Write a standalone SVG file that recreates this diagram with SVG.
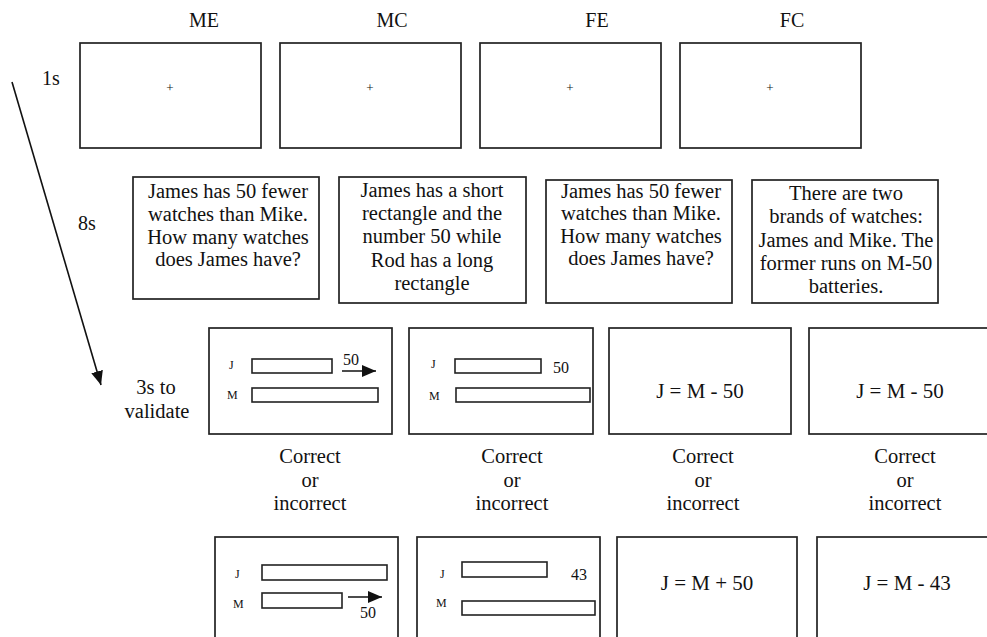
<svg xmlns="http://www.w3.org/2000/svg" width="987" height="637" viewBox="0 0 987 637">
<style>
text{font-family:"Liberation Serif","Times New Roman",serif;fill:#111}
.h{font-size:20px;text-anchor:middle}
.t{font-size:20.5px;text-anchor:middle}
.eq{font-size:21px;text-anchor:middle}
.s{font-size:12px}
.n{font-size:16px}
.p{font-size:13px;text-anchor:middle}
.box{fill:#fff;stroke:#222;stroke-width:1.7}
.bar{fill:#fff;stroke:#222;stroke-width:1.6}
.ln{stroke:#111;stroke-width:1.6;fill:none}
</style>
<defs>
<marker id="ah2" viewBox="0 0 10 10" refX="10" refY="5" markerWidth="14" markerHeight="12" markerUnits="userSpaceOnUse" orient="auto" preserveAspectRatio="none">
<path d="M0,0 L10,5 L0,10 z" fill="#111"/>
</marker>
</defs>
<rect width="987" height="637" fill="#fff"/>

<g id="headers">
<text class="h" x="204" y="27">ME</text>
<text class="h" x="392" y="27">MC</text>
<text class="h" x="597" y="27">FE</text>
<text class="h" x="792" y="27">FC</text>
</g>

<g id="timeline">
<text x="42" y="85" style="font-size:20px">1s</text>
<text x="78" y="230" style="font-size:20px">8s</text>
<text class="t" x="156" y="394">3s to</text>
<text class="t" x="157" y="418">validate</text>
</g>

<g id="connectors">
<line class="ln" x1="12" y1="82" x2="101" y2="385" marker-end="url(#ah2)"/>
</g>

<g id="fix-ME"><rect class="box" x="80" y="43" width="181" height="105"/><text class="p" x="170" y="92">+</text></g>
<g id="fix-MC"><rect class="box" x="280" y="43" width="181" height="105"/><text class="p" x="370" y="92">+</text></g>
<g id="fix-FE"><rect class="box" x="480" y="43" width="181" height="105"/><text class="p" x="570" y="92">+</text></g>
<g id="fix-FC"><rect class="box" x="680" y="43" width="181" height="105"/><text class="p" x="770" y="92">+</text></g>

<g id="prob-ME"><rect class="box" x="133" y="177" width="186" height="122"/>
<text class="t" x="228" y="198">James has 50 fewer</text>
<text class="t" x="228" y="221">watches than Mike.</text>
<text class="t" x="228" y="244">How many watches</text>
<text class="t" x="228" y="266">does James have?</text>
</g>
<g id="prob-MC"><rect class="box" x="339" y="177" width="187" height="126"/>
<text class="t" x="432" y="197">James has a short</text>
<text class="t" x="432" y="220">rectangle and the</text>
<text class="t" x="432" y="243">number 50 while</text>
<text class="t" x="432" y="267">Rod has a long</text>
<text class="t" x="432" y="290">rectangle</text>
</g>
<g id="prob-FE"><rect class="box" x="546" y="180" width="186" height="123"/>
<text class="t" x="641" y="198">James has 50 fewer</text>
<text class="t" x="641" y="220">watches than Mike.</text>
<text class="t" x="641" y="243">How many watches</text>
<text class="t" x="641" y="265">does James have?</text>
</g>
<g id="prob-FC"><rect class="box" x="752" y="180" width="186" height="123"/>
<text class="t" x="846" y="200">There are two</text>
<text class="t" x="846" y="223">brands of watches:</text>
<text class="t" x="846" y="247">James and Mike. The</text>
<text class="t" x="846" y="270">former runs on M-50</text>
<text class="t" x="846" y="293">batteries.</text>
</g>

<g id="val-ME"><rect class="box" x="209" y="328" width="183" height="106"/>
<text class="s" x="229" y="369">J</text>
<rect class="bar" x="252" y="359" width="80" height="14"/>
<text class="n" x="343" y="365">50</text>
<line class="ln" x1="342" y1="371" x2="376" y2="371" marker-end="url(#ah2)"/>
<text class="s" x="227" y="399">M</text>
<rect class="bar" x="252" y="388" width="126" height="14"/>
</g>
<g id="val-MC"><rect class="box" x="409" y="328" width="184" height="106"/>
<text class="s" x="431" y="368">J</text>
<rect class="bar" x="455" y="359" width="86" height="14"/>
<text class="n" x="553" y="373">50</text>
<text class="s" x="429" y="400">M</text>
<rect class="bar" x="456" y="388" width="134" height="14"/>
</g>
<g id="val-FE"><rect class="box" x="609" y="328" width="182" height="106"/>
<text class="eq" x="700" y="398">J = M - 50</text>
</g>
<g id="val-FC"><rect class="box" x="809" y="328" width="183" height="106"/>
<text class="eq" x="900" y="398">J = M - 50</text>
</g>

<g id="answers">
<text class="t" x="310" y="463">Correct</text><text class="t" x="310" y="487">or</text><text class="t" x="310" y="510">incorrect</text>
<text class="t" x="512" y="463">Correct</text><text class="t" x="512" y="487">or</text><text class="t" x="512" y="510">incorrect</text>
<text class="t" x="703" y="463">Correct</text><text class="t" x="703" y="487">or</text><text class="t" x="703" y="510">incorrect</text>
<text class="t" x="905" y="463">Correct</text><text class="t" x="905" y="487">or</text><text class="t" x="905" y="510">incorrect</text>
</g>

<g id="alt-ME"><rect class="box" x="215" y="537" width="183" height="110"/>
<text class="s" x="235" y="578">J</text>
<rect class="bar" x="262" y="565" width="125" height="15"/>
<text class="s" x="233" y="608">M</text>
<rect class="bar" x="262" y="593" width="80" height="15"/>
<line class="ln" x1="348" y1="597" x2="382" y2="597" marker-end="url(#ah2)"/>
<text class="n" x="360" y="618">50</text>
</g>
<g id="alt-MC"><rect class="box" x="417" y="537" width="183" height="110"/>
<text class="s" x="440" y="578">J</text>
<rect class="bar" x="462" y="562" width="85" height="15"/>
<text class="n" x="571" y="580">43</text>
<text class="s" x="436" y="607">M</text>
<rect class="bar" x="462" y="601" width="133" height="14"/>
</g>
<g id="alt-FE"><rect class="box" x="617" y="537" width="180" height="110"/>
<text class="eq" x="707" y="590">J = M + 50</text>
</g>
<g id="alt-FC"><rect class="box" x="817" y="537" width="180" height="110"/>
<text class="eq" x="907" y="590">J = M - 43</text>
</g>
</svg>
